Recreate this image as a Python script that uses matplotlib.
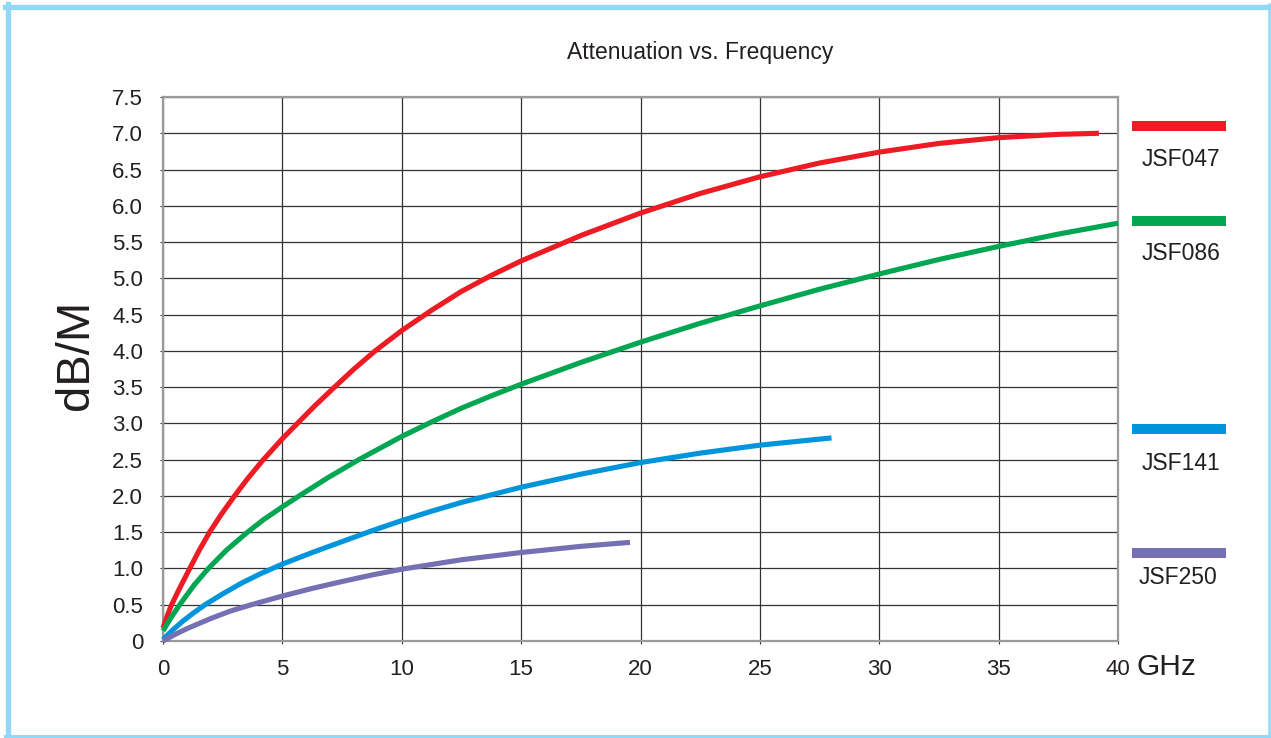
import matplotlib
matplotlib.use("Agg")
import matplotlib.pyplot as plt
from matplotlib.lines import Line2D
from matplotlib.patches import Rectangle

plt.rcParams['font.family'] = ['Liberation Sans', 'DejaVu Sans']

# Attenuation (dB/M) versus frequency (GHz) for each cable type
freq_jsf047 = [0, 0.18, 0.36, 0.7, 1.12, 1.5, 1.95, 2.45, 2.95, 3.5, 4.15, 5, 5.6,
               6.35, 7.15, 8.0, 8.85, 10, 11.25, 12.5, 13.75, 15, 17.5, 20, 22.5,
               25, 27.5, 30, 32.5, 35, 37.5, 39.2]
att_jsf047 = [0.18, 0.35, 0.5, 0.73, 1.0, 1.24, 1.5, 1.75, 1.98, 2.22, 2.48, 2.79,
              2.99, 3.24, 3.49, 3.75, 3.99, 4.28, 4.56, 4.82, 5.04, 5.24, 5.59,
              5.9, 6.17, 6.4, 6.59, 6.74, 6.86, 6.94, 6.985, 7.0]

freq_jsf086 = [0, 0.35, 0.7, 1.3, 1.9, 2.65, 3.5, 4.2, 5, 5.7, 6.9, 8.2, 10,
               11.25, 12.5, 13.75, 15, 17.5, 20, 22.5, 25, 27.5, 30, 32.5, 35,
               37.5, 40]
att_jsf086 = [0.14, 0.33, 0.5, 0.77, 1.0, 1.25, 1.49, 1.67, 1.85, 2.0, 2.25, 2.5,
              2.82, 3.02, 3.21, 3.38, 3.54, 3.84, 4.12, 4.38, 4.62, 4.85, 5.06,
              5.26, 5.44, 5.61, 5.76]

freq_jsf141 = [0, 0.4, 0.8, 1.25, 1.76, 2.5, 3.3, 4.1, 5, 6.25, 7.5, 8.75, 10,
               11.25, 12.5, 15, 17.5, 20, 22.5, 25, 28]
att_jsf141 = [0.02, 0.15, 0.265, 0.38, 0.5, 0.65, 0.8, 0.93, 1.06, 1.22, 1.37,
              1.52, 1.66, 1.79, 1.91, 2.12, 2.30, 2.46, 2.59, 2.70, 2.80]

freq_jsf250 = [0, 0.5, 1, 1.5, 2, 2.8, 3.7, 5, 6.25, 7.5, 8.75, 10, 12.5, 15,
               17.5, 19.56]
att_jsf250 = [0.0, 0.09, 0.17, 0.24, 0.31, 0.41, 0.5, 0.62, 0.725, 0.82, 0.91,
              0.99, 1.12, 1.22, 1.305, 1.36]

series_names = ["JSF047", "JSF086", "JSF141", "JSF250"]
series_colors = ["#ED1C24", "#00A651", "#0095DA", "#7570B3"]

x_ticks = [0, 5, 10, 15, 20, 25, 30, 35, 40]
y_ticks = [0, 0.5, 1.0, 1.5, 2.0, 2.5, 3.0, 3.5, 4.0, 4.5, 5.0, 5.5, 6.0, 6.5, 7.0, 7.5]
y_tick_labels = ["0" if v == 0 else f"{v:.1f}" for v in y_ticks]

W, H = 1271, 738
fig = plt.figure(figsize=(W / 100, H / 100), dpi=100)
fig.patch.set_facecolor("white")

left, right, top, bottom = 163, 1118, 97, 641
ax = fig.add_axes([left / W, 1 - bottom / H, (right - left) / W, (bottom - top) / H])

text_color = "#231F20"

ax.set_xlim(0, 40)
ax.set_ylim(0, 7.5)
ax.set_xticks(x_ticks)
ax.set_yticks(y_ticks)
ax.set_yticklabels(y_tick_labels)
ax.tick_params(axis="both", labelsize=16, colors="#333333", labelcolor=text_color,
               length=2, width=0.8)
ax.tick_params(axis="y", pad=12.4)
ax.tick_params(axis="x", pad=11)
ax.grid(True, color="#333333", linewidth=0.9)
ax.set_axisbelow(True)
for s in ax.spines.values():
    s.set_color("#9A9A9A")
    s.set_linewidth(1.6)

all_freq = [freq_jsf047, freq_jsf086, freq_jsf141, freq_jsf250]
all_att = [att_jsf047, att_jsf086, att_jsf141, att_jsf250]
for f, a, c in zip(all_freq, all_att, series_colors):
    ax.plot(f, a, color=c, linewidth=3.7, solid_capstyle="butt",
            solid_joinstyle="round", clip_on=False, zorder=3)

# Titles and axis captions
fig.text(700 / W, 1 - 53 / H, "Attenuation vs. Frequency", ha="center", va="center",
         fontsize=16.5, color=text_color)
fig.text(76 / W, 1 - 355 / H, "dB/M", rotation=90, ha="center", va="center",
         fontsize=34, color=text_color)
fig.text(1137 / W, 1 - 667 / H, "GHz", ha="left", va="center",
         fontsize=21.5, color=text_color)

# Side key: colour bar with the cable name beneath
key_bar_y = [126, 221, 429, 553]
key_text_y = [159, 254, 463, 578]
key_text_x = [1181, 1181, 1181, 1178]
for name, c, by, tx, ty in zip(series_names, series_colors, key_bar_y, key_text_x, key_text_y):
    fig.add_artist(Rectangle((1132 / W, 1 - (by + 5) / H), 94 / W, 10 / H,
                             transform=fig.transFigure, facecolor=c, edgecolor="none"))
    fig.text(tx / W, 1 - ty / H, name, ha="center", va="center",
             fontsize=16.5, color=text_color)

# Light blue frame around the whole graphic
frame_color = "#8FD8F6"
fig.add_artist(Line2D([7.5 / W, 7.5 / W], [1 - 4 / H, 1 - 737 / H],
                      transform=fig.transFigure, color=frame_color, linewidth=3.8))
fig.add_artist(Line2D([5 / W, 1271 / W], [1 - 6.5 / H, 1 - 6.5 / H],
                      transform=fig.transFigure, color=frame_color, linewidth=3.8))
fig.add_artist(Line2D([1269 / W, 1269 / W], [1 - 4 / H, 1 - 737 / H],
                      transform=fig.transFigure, color=frame_color, linewidth=1.8))
fig.add_artist(Line2D([5 / W, 1271 / W], [1 - 735.5 / H, 1 - 735.5 / H],
                      transform=fig.transFigure, color=frame_color, linewidth=2.2))

fig.savefig("out.png", dpi=100, facecolor="white")
